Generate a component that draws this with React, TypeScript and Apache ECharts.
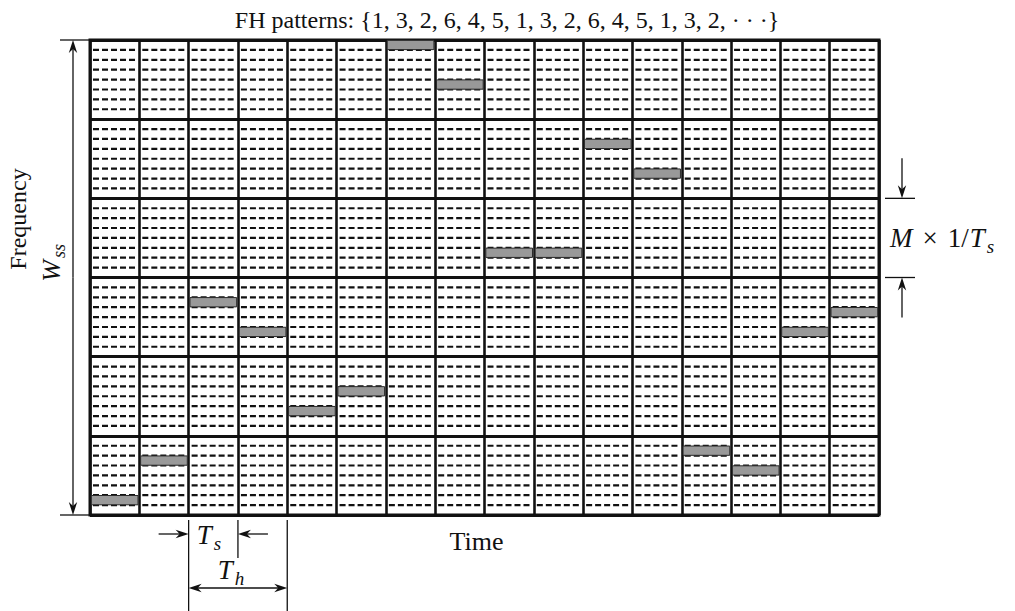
import { useEffect, useRef } from "react";
import * as echarts from "echarts";

// Time slots (T_s each) and frequency bands of the hopping grid
const slotCount = 16;
const bandCount = 6;
const rowsPerBand = 8; // M tones per band

// Band occupied in each slot (two slots per hop), counted from the bottom
const hopBands = [1, 1, 3, 3, 2, 2, 6, 6, 4, 4, 5, 5, 1, 1, 3, 3];
// Tone used in each slot, counted from the top row of its band
const toneRows = [6, 2, 2, 5, 5, 3, 0, 4, 5, 5, 2, 5, 1, 3, 5, 3];
// Hop pattern shown in the heading
const patternLabels = ["1", "3", "2", "6", "4", "5", "1", "3", "2", "6", "4", "5", "1", "3", "2", "· · ·"];

const FONT = "Liberation Serif";
const INK = "#111";

type Pt = number[];

const measureCtx = document.createElement("canvas").getContext("2d")!;
function textWidth(text: string, size: number, italic = false) {
  measureCtx.font = `${italic ? "italic " : ""}${size}px "${FONT}"`;
  return measureCtx.measureText(text).width;
}

function arrow(from: Pt, to: Pt) {
  const dx = to[0] - from[0];
  const dy = to[1] - from[1];
  const len = Math.hypot(dx, dy) || 1;
  const ux = dx / len;
  const uy = dy / len;
  const hl = 13;
  const hw = 4.2;
  const bx = to[0] - ux * hl;
  const by = to[1] - uy * hl;
  return [
    {
      type: "line",
      shape: { x1: from[0], y1: from[1], x2: to[0] - ux * 6, y2: to[1] - uy * 6 },
      style: { stroke: INK, lineWidth: 1.3 },
    },
    {
      type: "polygon",
      shape: {
        points: [
          [to[0], to[1]],
          [bx - uy * hw, by + ux * hw],
          [to[0] - ux * (hl - 4), to[1] - uy * (hl - 4)],
          [bx + uy * hw, by - ux * hw],
        ],
      },
      style: { fill: INK },
    },
  ];
}

function seg(x1: number, y1: number, x2: number, y2: number, w = 1.3) {
  return { type: "line", shape: { x1, y1, x2, y2 }, style: { stroke: INK, lineWidth: w } };
}

function txt(
  text: string,
  x: number,
  y: number,
  size: number,
  opts: { italic?: boolean; align?: string; rotation?: number } = {}
) {
  return {
    type: "text",
    x,
    y,
    rotation: opts.rotation ?? 0,
    style: {
      text,
      fill: INK,
      font: `${opts.italic ? "italic " : ""}${size}px "${FONT}"`,
      align: opts.align ?? "center",
      verticalAlign: "middle",
    },
  };
}

// A run of math pieces laid out left to right from x
function mathRun(
  pieces: { t: string; italic?: boolean; sub?: boolean; gap?: number }[],
  x: number,
  y: number,
  size: number
) {
  const out: any[] = [];
  let cx = x;
  for (const p of pieces) {
    cx += p.gap ?? 0;
    const s = p.sub ? Math.round(size * 0.7) : size;
    out.push(txt(p.t, cx, p.sub ? y + size * 0.3 : y, s, { italic: p.italic, align: "left" }));
    cx += textWidth(p.t, s, p.italic);
  }
  return out;
}

export default function App() {
  const ref = useRef<HTMLDivElement>(null);

  useEffect(() => {
    const chart = echarts.init(ref.current!, null, { renderer: "svg" });

    const cells: number[][] = [];
    for (let c = 0; c < slotCount; c++) {
      for (let b = 0; b < bandCount; b++) cells.push([c, b]);
    }
    const hops = hopBands.map((band, slot) => {
      const top = band * rowsPerBand - toneRows[slot];
      return [slot, top - 1, top];
    });

    chart.setOption({
      animation: false,
      grid: {
        left: 90,
        top: 40,
        right: 136,
        bottom: 96,
        show: true,
        borderColor: INK,
        borderWidth: 3,
        backgroundColor: "#fff",
      },
      xAxis: {
        type: "value",
        min: 0,
        max: slotCount,
        interval: 1,
        axisLine: { show: false },
        axisTick: { show: false },
        axisLabel: { show: false },
        splitLine: { show: true, lineStyle: { color: INK, width: 2.6 } },
      },
      yAxis: {
        type: "value",
        min: 0,
        max: bandCount * rowsPerBand,
        interval: rowsPerBand,
        axisLine: { show: false },
        axisTick: { show: false },
        axisLabel: { show: false },
        splitLine: { show: true, lineStyle: { color: INK, width: 3 } },
      },
      series: [
        {
          type: "custom",
          name: "tones",
          data: cells,
          silent: true,
          z: 1,
          renderItem: (_p: any, api: any) => {
            const col = api.value(0);
            const band = api.value(1);
            const children: any[] = [];
            for (let r = 1; r < rowsPerBand; r++) {
              const y = band * rowsPerBand + r;
              const a = api.coord([col, y]);
              const b = api.coord([col + 1, y]);
              children.push({
                type: "line",
                shape: { x1: a[0] + 3, y1: a[1], x2: b[0] - 3, y2: b[1] },
                style: { stroke: INK, lineWidth: 2.2, lineDash: [6, 3] },
              });
            }
            return { type: "group", children };
          },
        },
        {
          type: "custom",
          name: "hops",
          data: hops,
          silent: true,
          z: 2,
          renderItem: (_p: any, api: any) => {
            const slot = api.value(0);
            const lo = api.coord([slot, api.value(1)]);
            const hi = api.coord([slot + 1, api.value(2)]);
            return {
              type: "rect",
              shape: {
                x: lo[0] + 1.3,
                y: hi[1] + 0.3,
                width: hi[0] - lo[0] - 2.6,
                height: lo[1] - hi[1] - 0.6,
              },
              style: { fill: "#999", stroke: "#2a2a2a", lineWidth: 1 },
            };
          },
        },
      ],
    });

    const px = (x: number, y: number) => chart.convertToPixel({ gridIndex: 0 }, [x, y]) as number[];
    const gL = px(0, 0)[0];
    const gR = px(slotCount, 0)[0];
    const gB = px(0, 0)[1];
    const gT = px(0, bandCount * rowsPerBand)[1];
    const colX = (i: number) => px(i, 0)[0];
    const bandY = (k: number) => px(0, k * rowsPerBand)[1];

    const g: any[] = [];

    // heading
    g.push(txt(`FH patterns: {${patternLabels.join(", ")}}`, 507, 20, 24));

    // frequency span W_ss on the left
    const ax = gL - 17;
    const midY = (gT + gB) / 2;
    g.push(seg(gL - 30, gT, gL, gT), seg(gL - 30, gB, gL, gB));
    g.push(...arrow([ax, midY], [ax, gT]));
    g.push(...arrow([ax, midY], [ax, gB]));
    g.push(txt("Frequency", 18, 219, 24, { rotation: Math.PI / 2 }));
    g.push(txt("W", 51, 271, 26, { italic: true, rotation: Math.PI / 2 }));
    g.push(txt("ss", 59, 251, 18, { italic: true, rotation: Math.PI / 2 }));

    // band width M x 1/T_s on the right
    const rx = gR + 23;
    const b4 = bandY(4);
    const b3 = bandY(3);
    g.push(seg(gR + 6, b4, gR + 36, b4), seg(gR + 6, b3, gR + 36, b3));
    g.push(...arrow([rx, b4 - 40], [rx, b4]));
    g.push(...arrow([rx, b3 + 40], [rx, b3]));
    const my = (b3 + b4) / 2;
    g.push(
      ...mathRun(
        [
          { t: "M", italic: true },
          { t: "×", gap: 10 },
          { t: "1/", gap: 10 },
          { t: "T", italic: true, gap: 1 },
          { t: "s", italic: true, sub: true, gap: 2 },
        ],
        gR + 11,
        my,
        27
      )
    );

    // time axis
    g.push(txt("Time", (gL + gR) / 2 - 8, gB + 26, 26));

    // slot and hop durations
    const c2 = colX(2);
    const c3 = colX(3);
    const c4 = colX(4);
    g.push(seg(c2, gB + 5, c2, 611), seg(c3, gB + 5, c3, gB + 43), seg(c4, gB + 5, c4, 611));
    g.push(...arrow([c2 - 30, gB + 19], [c2, gB + 19]));
    g.push(...arrow([c3 + 30, gB + 19], [c3, gB + 19]));
    g.push(...mathRun([{ t: "T", italic: true }, { t: "s", italic: true, sub: true, gap: 2 }], c2 + 8, gB + 20, 27));
    g.push(...mathRun([{ t: "T", italic: true }, { t: "h", italic: true, sub: true, gap: 2 }], c2 + 29, gB + 55, 27));
    const ay = gB + 73;
    g.push(...arrow([(c2 + c4) / 2, ay], [c2, ay]));
    g.push(...arrow([(c2 + c4) / 2, ay], [c4, ay]));

    chart.setOption({ graphic: g });

    return () => chart.dispose();
  }, []);

  return (
    <div
      ref={ref}
      style={{ position: "absolute", left: 0, top: 0, width: 1015, height: 611, background: "#fff" }}
    />
  );
}
